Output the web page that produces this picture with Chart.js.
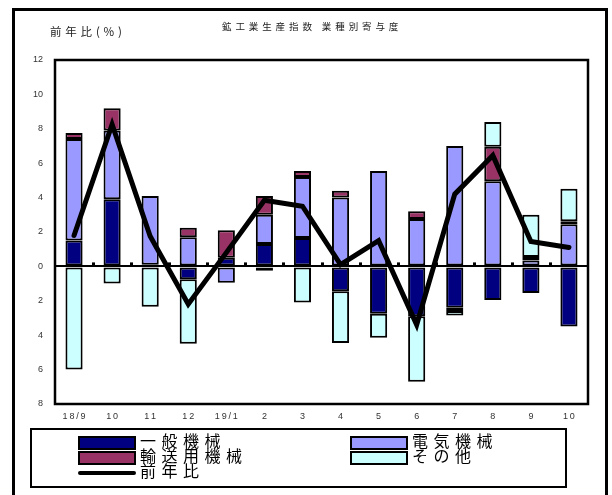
<!DOCTYPE html>
<html>
<head>
<meta charset="utf-8">
<script src="https://cdn.jsdelivr.net/npm/chart.js@4.4.0/dist/chart.umd.min.js"></script>
<style>
  body { margin: 0; background: #fff; }
  #wrap { position: relative; width: 612px; height: 495px; overflow: hidden; }
  #frame { position: absolute; left: 12px; top: 8px; width: 590px; height: 495px; border: 3px solid #000; }
  #chart { position: absolute; left: 0; top: 0; }
  .txt { position: absolute; font-family: "Noto Sans CJK JP", sans-serif; color: #222; white-space: nowrap; }
  #title { left: 222px; top: 19px; font-size: 9.5px; letter-spacing: 3.9px; }
  #ytitle { left: 50px; top: 23px; font-size: 11.5px; letter-spacing: 3.8px; }
  #legend { position: absolute; left: 30px; top: 428px; width: 533px; height: 56px; border: 2px solid #000; }
  .item { position: absolute; height: 15px; width: 240px; white-space: nowrap; font-family: "Noto Sans CJK JP", sans-serif; font-size: 16px; line-height: 15px; letter-spacing: 5.5px; color: #000; }
  .sw { position: absolute; left: 0; top: 1px; width: 54px; height: 10px; border: 2px solid #000; }
  .ln { position: absolute; left: 0; top: 6px; width: 58px; height: 4px; background: #000; border-radius: 2px; }
  .lab { position: absolute; left: 62px; top: -2px; }
</style>
</head>
<body>
<div id="wrap">
  <div id="frame"></div>
  <canvas id="chart" width="612" height="495"></canvas>
  <div id="title" class="txt">鉱工業生産指数 業種別寄与度</div>
  <div id="ytitle" class="txt">前年比(%)</div>
  <div id="legend"></div>
</div>
<script>
const months = ['18/9', '10', '11', '12', '19/1', '2', '3', '4', '5', '6', '7', '8', '9', '10'];
const generalMachinery = [1.5, 3.9, 0.1, -0.75, 0.5, 1.3, 1.65, -1.45, -2.75, -2.9, -2.4, -1.95, -1.55, -3.5];
const electricalMachinery = [5.9, 4.0, 4.0, 1.7, -0.95, 1.7, 3.55, 4.0, 5.55, 2.75, 7.0, 4.95, 0.35, 2.45];
const transportMachinery = [0.35, 1.3, null, 0.55, 1.6, 1.1, 0.35, 0.4, null, 0.45, -0.2, 2.0, 0.2, 0.17];
const others = [-6.0, -1.0, -2.35, -3.75, null, -0.25, -2.1, -3.0, -1.4, -3.8, -0.25, 1.45, 2.45, 1.9];
const yoy = [1.8, 8.25, 1.75, -2.2, 0.8, 3.85, 3.5, 0.1, 1.5, -3.4, 4.2, 6.45, 1.45, 1.1];
const yTicks = [12, 10, 8, 6, 4, 2, 0, -2, -4, -6, -8];

const barNames = ['一般機械', '電気機械', '輸送用機械', 'その他'];
const lineName = '前年比';
const colors = ['#000080', '#9999ff', '#993366', '#ccffff'];

function barSet(name, data, color) {
  return {
    type: 'bar', label: name, data: data, backgroundColor: color,
    borderColor: '#000', borderWidth: 2, borderSkipped: false,
    stack: 'bars', order: 1, barPercentage: 0.45, categoryPercentage: 1
  };
}

// box around plot area + little tick marks on the zero line
const framePlugin = {
  id: 'framePlugin',
  afterDatasetsDraw(chart) {
    const ctx = chart.ctx;
    const xs = chart.scales.x, ys = chart.scales.y;
    const y0 = ys.getPixelForValue(0);
    ctx.save();
    ctx.fillStyle = '#000';
    const step = xs.getPixelForValue(1) - xs.getPixelForValue(0);
    for (let i = 1; i < months.length; i++) {
      const x = xs.getPixelForValue(i) - step / 2;
      ctx.fillRect(Math.round(x) - 1, y0 - 4, 3, 3);
    }
    ctx.restore();
  },
  afterDraw(chart) {
    const a = chart.chartArea, ctx = chart.ctx;
    ctx.save();
    ctx.strokeStyle = '#000';
    ctx.lineWidth = 2.5;
    ctx.strokeRect(a.left, a.top, a.right - a.left, a.bottom - a.top);
    ctx.restore();
  }
};

new Chart(document.getElementById('chart').getContext('2d'), {
  data: {
    labels: months,
    datasets: [
      {
        type: 'line', label: lineName, data: yoy, borderColor: '#000', borderWidth: 5,
        pointRadius: 0, tension: 0, fill: false, stack: 'line', order: 0,
        borderCapStyle: 'round', borderJoinStyle: 'miter'
      },
      barSet(barNames[0], generalMachinery, colors[0]),
      barSet(barNames[1], electricalMachinery, colors[1]),
      barSet(barNames[2], transportMachinery, colors[2]),
      barSet(barNames[3], others, colors[3])
    ]
  },
  options: {
    responsive: false,
    animation: false,
    layout: { padding: { left: 12, top: 60, right: 24, bottom: 71 } },
    plugins: { legend: { display: false }, tooltip: { enabled: false } },
    scales: {
      x: {
        stacked: true,
        grid: { display: false, drawTicks: false },
        border: { display: true, color: '#000', width: 2 },
        ticks: { color: '#333', padding: 7, maxRotation: 0, autoSkip: false,
                 font: { family: 'Liberation Sans', size: 9 },
                 callback: (v, i) => months[i].split('').join('\u2009') },
        afterFit: s => { s.height = 20; }
      },
      y: {
        stacked: true,
        min: -8, max: 12,
        afterBuildTicks: s => { s.ticks = yTicks.map(v => ({ value: v })); },
        grid: { drawTicks: false, lineWidth: 2,
                color: c => c.tick && c.tick.value === 0 ? '#000' : 'rgba(0,0,0,0)' },
        border: { display: true, color: '#000', width: 2 },
        ticks: { color: '#333', padding: 12, font: { family: 'Liberation Sans', size: 9 },
                 callback: v => String(Math.abs(v)) },
        afterFit: s => { s.width = 43; }
      }
    }
  },
  plugins: [framePlugin]
});

// legend box
const legend = document.getElementById('legend');
const items = [
  { name: barNames[0], color: colors[0], x: 46, y: 5 },
  { name: barNames[1], color: colors[1], x: 318, y: 5 },
  { name: barNames[2], color: colors[2], x: 46, y: 20 },
  { name: barNames[3], color: colors[3], x: 318, y: 20 },
  { name: lineName, color: null, x: 46, y: 35 }
];
items.forEach(it => {
  const d = document.createElement('div');
  d.className = 'item';
  d.style.left = it.x + 'px';
  d.style.top = it.y + 'px';
  const sw = document.createElement('div');
  if (it.color) { sw.className = 'sw'; sw.style.background = it.color; } else { sw.className = 'ln'; }
  const t = document.createElement('span');
  t.className = 'lab';
  t.textContent = it.name;
  d.appendChild(sw);
  d.appendChild(t);
  legend.appendChild(d);
});
</script>
</body>
</html>
